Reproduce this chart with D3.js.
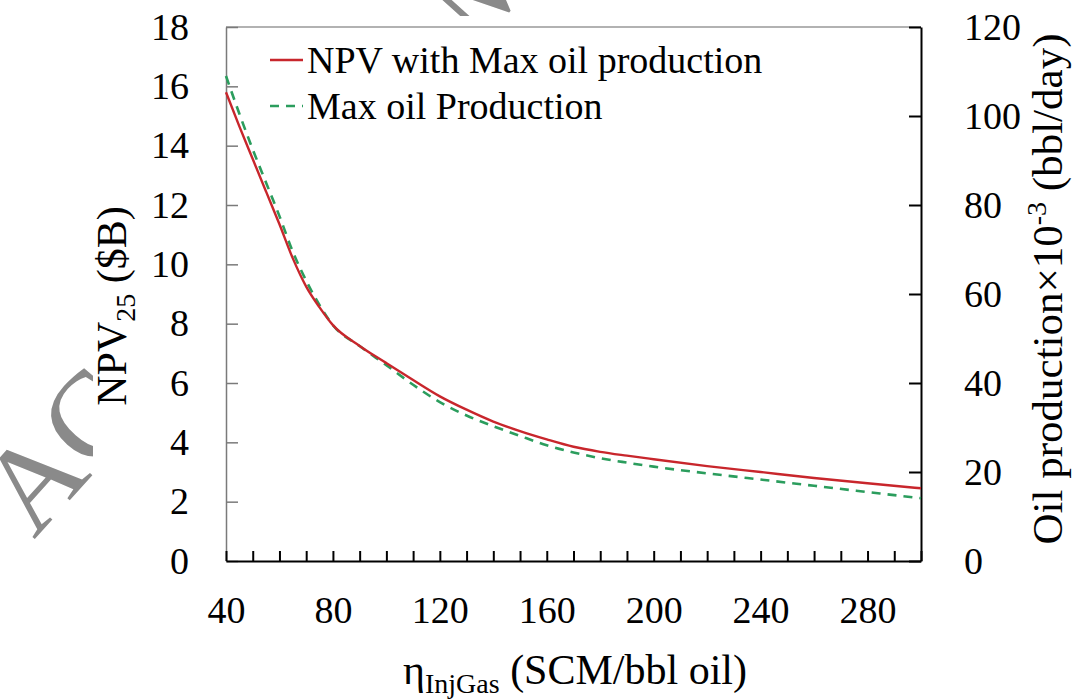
<!DOCTYPE html>
<html>
<head>
<meta charset="utf-8">
<script src="https://cdn.jsdelivr.net/npm/d3@7"></script>
<style>
  body { margin: 0; background: #fff; }
  svg { display: block; }
  svg text { font-family: "Liberation Serif", "DejaVu Serif", serif; }
</style>
</head>
<body>
<svg id="chart"></svg>
<script>
// injected gas ratio, SCM/bbl oil
const injGas = [40, 45, 50, 55, 60, 65, 70, 75, 80, 90, 100, 110, 120, 130, 140, 150,
                160, 170, 180, 190, 200, 220, 240, 260, 280, 300];
// NPV25 in $B (left axis)
const npvMaxOil = [15.8, 14.65, 13.55, 12.45, 11.35, 10.2, 9.25, 8.55, 7.95, 7.25, 6.67,
                   6.1, 5.55, 5.1, 4.7, 4.38, 4.1, 3.85, 3.68, 3.55, 3.43, 3.2, 3.0, 2.8, 2.62, 2.45];
// max oil production x10^-3 bbl/day (right axis)
const maxOilProd = [109.0, 100.5, 92.5, 85.0, 77.5, 69.5, 63.0, 57.5, 53.0, 48.3, 44.0,
                    39.6, 35.7, 32.7, 30.3, 28.1, 26.0, 24.4, 23.1, 22.1, 21.2, 19.7, 18.3, 16.9, 15.5, 14.1];

const seriesNames = ["NPV with Max oil production", "Max oil Production"];
const xTickLabels = [40, 80, 120, 160, 200, 240, 280];
const xMinorTicks = [40, 50, 60, 70, 80, 90, 100, 110, 120, 130, 140, 150, 160, 170, 180,
                     190, 200, 210, 220, 230, 240, 250, 260, 270, 280, 290, 300];
const yLeftTicks = [0, 2, 4, 6, 8, 10, 12, 14, 16, 18];
const yRightTicks = [0, 20, 40, 60, 80, 100, 120];

const svg_width = 1075, svg_height = 700;
const margin = {top: 27, right: 154, bottom: 139, left: 226},
      width = svg_width - margin.left - margin.right,
      height = svg_height - margin.top - margin.bottom;

const red = "#c8262c", green = "#2b9d5d";
const serif = "'Liberation Serif', 'DejaVu Serif', serif";

const svg = d3.select("#chart")
  .attr("width", svg_width)
  .attr("height", svg_height);

// watermark, mostly hidden behind the figure
svg.append("text")
  .attr("transform", "translate(34,540) rotate(-48)")
  .style("font-size", "122px")
  .style("fill", "#8a8a8a")
  .text("ACCEPTED MANUSCRIPT");

svg.append("rect")
  .attr("x", 93).attr("y", 16)
  .attr("width", svg_width - 93).attr("height", svg_height - 16)
  .style("fill", "#fff");

const chart = svg.append("g")
  .attr("transform", "translate(" + margin.left + "," + margin.top + ")");

let xScale = d3.scaleLinear().domain([40, 300]).range([0, width]);
let yLeft = d3.scaleLinear().domain([0, 18]).range([height, 0]);
let yRight = d3.scaleLinear().domain([0, 120]).range([height, 0]);

// top border
chart.append("line")
  .attr("x1", 0).attr("y1", 0).attr("x2", width).attr("y2", 0)
  .style("stroke", "#999").style("stroke-width", 1.5);

// left axis (gray)
chart.append("g")
  .call(d3.axisLeft(yLeft).tickValues(yLeftTicks).tickSizeInner(-12).tickSizeOuter(0).tickPadding(37))
  .attr("font-family", serif)
  .call(g => g.selectAll("line,path").style("stroke", "#7a7a7a").style("stroke-width", 1.5))
  .call(g => g.selectAll("text").style("font-size", "38px").style("fill", "#000"));

// right axis
chart.append("g")
  .attr("transform", `translate(${width},0)`)
  .call(d3.axisRight(yRight).tickValues(yRightTicks).tickSizeInner(-12).tickSizeOuter(0).tickPadding(43))
  .attr("font-family", serif)
  .call(g => g.selectAll("line,path").style("stroke", "#000").style("stroke-width", 2))
  .call(g => g.selectAll("text").style("font-size", "38px").style("fill", "#000"));

// bottom axis, minor ticks every 10, labels every 40
chart.append("g")
  .attr("transform", `translate(0,${height})`)
  .call(d3.axisBottom(xScale).tickValues(xMinorTicks).tickSizeInner(-10).tickSizeOuter(0).tickPadding(35)
    .tickFormat(d => xTickLabels.includes(d) ? d : ""))
  .attr("font-family", serif)
  .call(g => g.selectAll("line,path").style("stroke", "#000").style("stroke-width", 2))
  .call(g => g.selectAll("text").style("font-size", "38px").style("fill", "#000"));

const npvData = injGas.map((x, i) => ({x: x, y: npvMaxOil[i]}));
const oilData = injGas.map((x, i) => ({x: x, y: maxOilProd[i]}));

chart.append("path")
  .datum(oilData)
  .attr("d", d3.line().x(d => xScale(d.x)).y(d => yRight(d.y)).curve(d3.curveMonotoneX))
  .style("fill", "none").style("stroke", green).style("stroke-width", 2.6)
  .style("stroke-dasharray", "9,7");

chart.append("path")
  .datum(npvData)
  .attr("d", d3.line().x(d => xScale(d.x)).y(d => yLeft(d.y)).curve(d3.curveMonotoneX))
  .style("fill", "none").style("stroke", red).style("stroke-width", 2.4);

// legend
const legend = chart.append("g").attr("transform", "translate(44,33)");
legend.append("line")
  .attr("x1", 0).attr("x2", 33).attr("y1", 0).attr("y2", 0)
  .style("stroke", red).style("stroke-width", 2.4);
legend.append("text").attr("x", 37).attr("y", 13)
  .style("font-size", "38px").text(seriesNames[0]);
legend.append("line")
  .attr("x1", 0).attr("x2", 33).attr("y1", 46).attr("y2", 46)
  .style("stroke", green).style("stroke-width", 2.6).style("stroke-dasharray", "9,7");
legend.append("text").attr("x", 37).attr("y", 59)
  .style("font-size", "38px").text(seriesNames[1]);

// left axis title
const yTitle = svg.append("text")
  .attr("transform", "translate(126,306) rotate(-90)")
  .style("text-anchor", "middle")
  .style("font-size", "42px");
yTitle.append("tspan").text("NPV");
yTitle.append("tspan").attr("dy", 9).style("font-size", "28px").text("25");
yTitle.append("tspan").attr("dy", -9).text(" ($B)");

// right axis title
const y2Title = svg.append("text")
  .attr("transform", "translate(1062,289) rotate(-90)")
  .style("text-anchor", "middle")
  .style("font-size", "43px");
y2Title.append("tspan").text("Oil production×10");
y2Title.append("tspan").attr("dy", -16).style("font-size", "28px").text("-3");
y2Title.append("tspan").attr("dy", 16).text(" (bbl/day)");

// x axis title
const xTitle = svg.append("text")
  .attr("transform", "translate(575,684)")
  .style("text-anchor", "middle")
  .style("font-size", "42px");
xTitle.append("tspan").text("η");
xTitle.append("tspan").attr("dy", 9).style("font-size", "28px").text("InjGas");
xTitle.append("tspan").attr("dy", -9).text(" (SCM/bbl oil)");
</script>
</body>
</html>
